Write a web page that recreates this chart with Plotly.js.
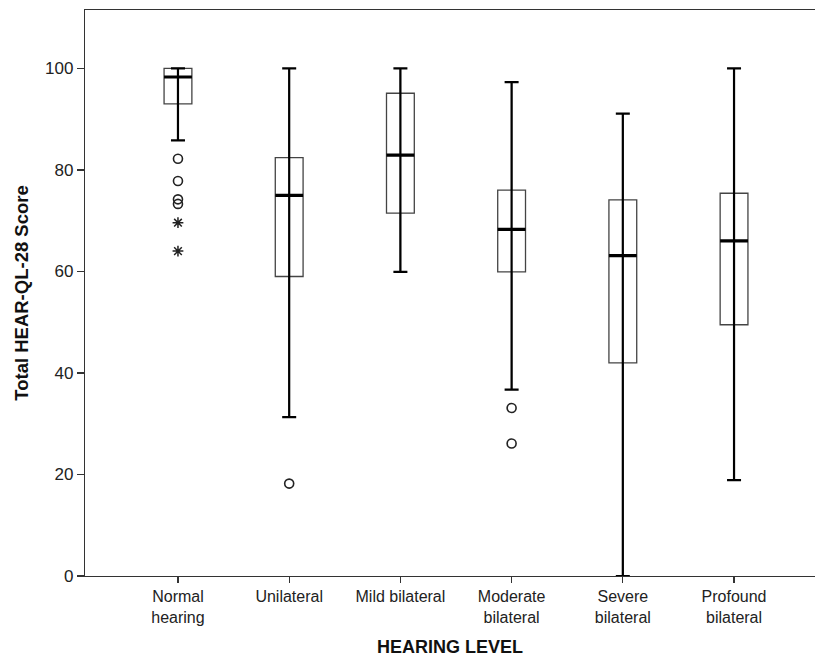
<!DOCTYPE html>
<html>
<head>
<meta charset="utf-8">
<script src="https://cdn.plot.ly/plotly-3.0.1.min.js"></script>
<style>
html,body{margin:0;padding:0;background:#fff;}
#chart{width:815px;height:660px;}
</style>
</head>
<body>
<div id="chart"></div>
<script>
// ---- data ----
const categories = ['Normal<br>hearing', 'Unilateral', 'Mild bilateral', 'Moderate<br>bilateral', 'Severe<br>bilateral', 'Profound<br>bilateral'];
const lowerWhisker = [85.8, 31.3, 59.9, 36.7, 0, 18.9];
const q1Values     = [93.0, 59.0, 71.5, 59.9, 42.0, 49.5];
const medianValues = [98.3, 75.0, 82.9, 68.3, 63.1, 66.0];
const q3Values     = [100,  82.4, 95.1, 76.0, 74.1, 75.4];
const upperWhisker = [100,  100,  100,  97.3, 91.1, 100];

const circleOutlierCat = ['Normal<br>hearing', 'Normal<br>hearing', 'Normal<br>hearing', 'Normal<br>hearing', 'Unilateral', 'Moderate<br>bilateral', 'Moderate<br>bilateral'];
const circleOutlierVal = [82.2, 77.8, 74.2, 73.3, 18.2, 33.1, 26.1];
const starOutlierCat = ['Normal<br>hearing', 'Normal<br>hearing'];
const starOutlierVal = [69.6, 64.0];

const yTicks = [0, 20, 40, 60, 80, 100];

// ---- traces ----
const boxTrace = {
  type: 'box',
  x: categories,
  q1: q1Values,
  median: medianValues,
  q3: q3Values,
  lowerfence: lowerWhisker,
  upperfence: upperWhisker,
  boxpoints: false,
  width: 0.25,
  whiskerwidth: 0,
  fillcolor: 'rgba(255,255,255,0)',
  line: {color: '#444', width: 1.3},
  hoverinfo: 'skip',
  showlegend: false
};

const whiskerTrace = {
  type: 'scatter',
  mode: 'markers',
  x: categories,
  y: medianValues,
  marker: {color: 'rgba(0,0,0,0)', size: 1},
  error_y: {
    type: 'data', symmetric: false,
    array: upperWhisker.map((u, i) => u - medianValues[i]),
    arrayminus: lowerWhisker.map((l, i) => medianValues[i] - l),
    thickness: 2.2, width: 7, color: '#000'
  },
  hoverinfo: 'skip',
  showlegend: false
};

// collapsed box (all stats = median) gives a thick median bar across the box width
const medianTrace = {
  type: 'box',
  x: categories,
  q1: medianValues,
  median: medianValues,
  q3: medianValues,
  lowerfence: medianValues,
  upperfence: medianValues,
  boxpoints: false,
  width: 0.25,
  whiskerwidth: 0,
  fillcolor: 'rgba(0,0,0,0)',
  line: {color: '#000', width: 3.2},
  hoverinfo: 'skip',
  showlegend: false
};

const circleTrace = {
  type: 'scatter',
  mode: 'markers',
  x: circleOutlierCat,
  y: circleOutlierVal,
  marker: {symbol: 'circle-open', size: 9, color: '#222', line: {width: 1.6, color: '#222'}},
  hoverinfo: 'skip',
  showlegend: false
};

const starTrace = {
  type: 'scatter',
  mode: 'markers',
  x: starOutlierCat,
  y: starOutlierVal,
  marker: {symbol: 'asterisk-open', size: 9, color: '#222', line: {width: 1.5, color: '#222'}},
  hoverinfo: 'skip',
  showlegend: false
};

const layout = {
  width: 815,
  height: 660,
  margin: {l: 85, r: 0, t: 10, b: 84},
  paper_bgcolor: '#fff',
  plot_bgcolor: '#fff',
  showlegend: false,
  boxmode: 'overlay',
  font: {family: 'Liberation Sans, Arial, sans-serif', color: '#222', size: 16},
  xaxis: {
    type: 'category',
    categoryarray: categories,
    range: [-0.836, 5.728],
    showgrid: false,
    zeroline: false,
    showline: true,
    linecolor: '#333',
    linewidth: 1.2,
    mirror: true,
    ticks: 'outside',
    ticklen: 6,
    tickwidth: 1.2,
    tickcolor: '#333',
    tickfont: {size: 16, color: '#222'},
    title: {text: '<b>HEARING LEVEL</b>', font: {size: 18, color: '#111'}, standoff: 15}
  },
  yaxis: {
    range: [0, 111.5],
    tickvals: yTicks,
    showgrid: false,
    zeroline: false,
    showline: true,
    linecolor: '#333',
    linewidth: 1.2,
    ticks: 'outside',
    ticklen: 7,
    tickwidth: 1.2,
    tickcolor: '#333',
    tickfont: {size: 17, color: '#222'},
    title: {text: '<b>Total HEAR-QL-28 Score</b>', font: {size: 18.5, color: '#111'}, standoff: 11}
  }
};

Plotly.newPlot('chart', [boxTrace, whiskerTrace, medianTrace, circleTrace, starTrace], layout, {staticPlot: true, displayModeBar: false});
</script>
</body>
</html>
